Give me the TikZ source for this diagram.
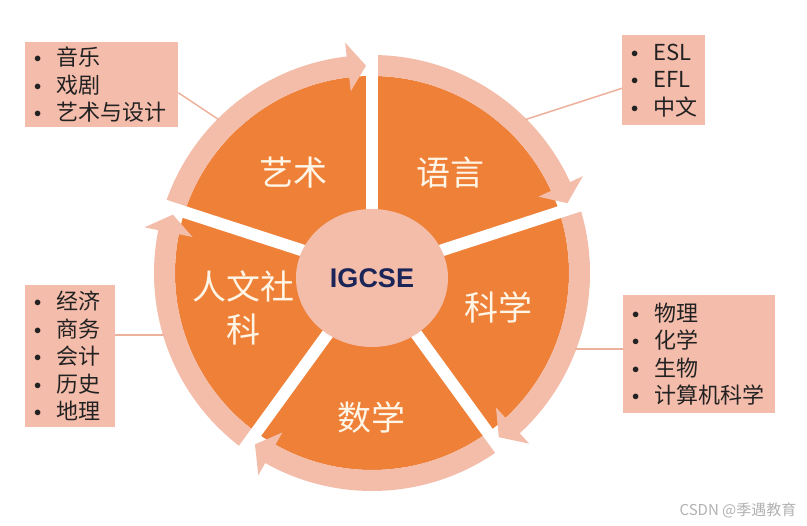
\documentclass[tikz,border=0pt]{standalone}
\usepackage{fontspec}
\usepackage{tikz}
\usetikzlibrary{shapes.geometric,positioning,calc}
\newfontfamily\cjk{Noto Sans CJK SC}
\newfontfamily\headfont{Liberation Sans}
\definecolor{petal}{HTML}{EE8038}
\definecolor{blush}{HTML}{F3BDA9}
\definecolor{note}{HTML}{F4BCAA}
\definecolor{link}{HTML}{EDB09B}
\definecolor{navy}{HTML}{1B2557}
\definecolor{cream}{HTML}{FFF5E6}
\definecolor{ink}{HTML}{222222}
\newcommand{\bul}{\makebox[22pt][l]{\raisebox{3pt}{\fontsize{15}{15}\selectfont$\bullet$}}}

\begin{document}
\begin{tikzpicture}[x=1pt,y=1pt,font=\cjk,
  lbl/.style={text=cream,font=\cjk\fontsize{34}{43}\selectfont,align=center,inner sep=0pt},
  listbox/.style={fill=note,anchor=north west,align=left,text=ink,inner xsep=9pt,inner ysep=0pt,font=\cjk\fontsize{22}{27.5}\selectfont},
  conn/.style={draw=link,line width=1.5pt},
  gapline/.style={white,line width=12pt},
  core/.style={ellipse,fill=blush,minimum width=152pt,minimum height=138pt,text=navy,font=\headfont\bfseries\fontsize{27}{27}\selectfont},
  wmtext/.style={text=black!30,font=\cjk\fontsize{15}{15}\selectfont}]
\fill[white] (0,0) rectangle (807,-526);
\useasboundingbox (0,0) rectangle (807,-526);
\def\ro{218}\def\ri{197}\def\rm{207.5}\def\hw{14}\def\hl{5}\def\dg{1.66}
\begin{scope}[shift={(372,-273)}]
\fill[petal] (0,0) circle (\ri);
\foreach \g in {90,18,-54,-126,-198}
  \fill[blush] ({\g+72}:\ro) arc[start angle={\g+72},end angle={\g+\dg+\hl},radius=\ro]
    -- ({\g+\dg+\hl}:{\ro+\hw}) -- ({\g+\dg}:\rm) -- ({\g+\dg+\hl}:{\ri-\hw})
    -- ({\g+\dg+\hl}:\ri) arc[start angle={\g+\dg+\hl},end angle={\g+72},radius=\ri] -- cycle;
\foreach \g in {90,18,-54,-126,162}
  \draw[gapline] (0,0) -- (\g:226);
\coordinate (artsPin) at (135:217);
\coordinate (langPin) at (45:217);
\coordinate (humPin) at (196.5:217);
\coordinate (sciPin) at (-20.4:217);
\end{scope}
\node[core] (igcse) at (372,-278) {IGCSE};
\node[lbl] (arts) at (293,-173) {艺术};
\node[lbl] (lang) at (450,-173) {语言};
\node[lbl] (sci) at (498,-307) {科学};
\node[lbl] (math) at (371,-417) {数学};
\node[lbl] (hum) at (243,-308) {人文社\\科};
\node[listbox,text width=135pt,minimum height=85pt] (artsBox) at (25,-42) {\bul 音乐\\\bul 戏剧\\\bul 艺术与设计};
\node[listbox,text width=65pt,minimum height=90pt] (langBox) at (622,-35) {\bul ESL\\\bul EFL\\\bul 中文};
\node[listbox,text width=72pt,minimum height=142pt] (humBox) at (25,-285) {\bul 经济\\\bul 商务\\\bul 会计\\\bul 历史\\\bul 地理};
\node[listbox,text width=134pt,minimum height=118pt] (sciBox) at (623,-295) {\bul 物理\\\bul 化学\\\bul 生物\\\bul 计算机科学};
\draw[conn] (artsBox.-6) -- (artsPin);
\draw[conn] (langPin) -- (langBox.-169);
\draw[conn] (humBox.25) -- (humBox.25 -| humPin);
\draw[conn] (sciPin |- sciBox.176) -- (sciBox.176);
\node[wmtext] (wm) at (738,-510) {CSDN @季遇教育};
\end{tikzpicture}
\end{document}
